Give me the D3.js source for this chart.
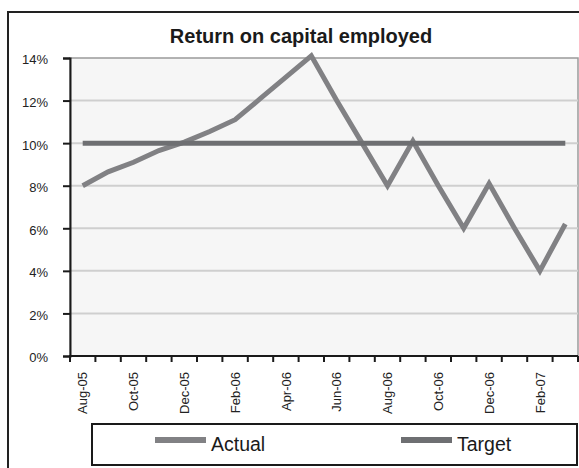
<!DOCTYPE html>
<html>
<head>
<meta charset="utf-8">
<script src="https://cdn.jsdelivr.net/npm/d3@7"></script>
<style>
  html, body { margin: 0; padding: 0; background: #ffffff; }
  svg { display: block; font-family: "Liberation Sans", Arial, sans-serif; }
</style>
</head>
<body>
<svg id="chart" width="579" height="468"></svg>
<script>
const months = ["Aug-05","Sep-05","Oct-05","Nov-05","Dec-05","Jan-06","Feb-06","Mar-06","Apr-06","May-06",
                "Jun-06","Jul-06","Aug-06","Sep-06","Oct-06","Nov-06","Dec-06","Jan-07","Feb-07","Mar-07"];
const actual = [0.080,0.0865,0.091,0.0965,0.1005,0.1055,0.111,0.121,0.131,0.141,
                0.120,0.100,0.080,0.101,0.080,0.060,0.081,0.060,0.040,0.062];
const target = [0.10,0.10,0.10,0.10,0.10,0.10,0.10,0.10,0.10,0.10,
                0.10,0.10,0.10,0.10,0.10,0.10,0.10,0.10,0.10,0.10];
const yTicks = [0,0.02,0.04,0.06,0.08,0.10,0.12,0.14];
const labelMonths = ["Aug-05","Oct-05","Dec-05","Feb-06","Apr-06","Jun-06","Aug-06","Oct-06","Dec-06","Feb-07"];
const seriesNames = ["Actual","Target"];
const seriesColors = ["#818184","#6e6f72"];

const svg = d3.select("#chart");
const pLeft = 70, pRight = 578, pTop = 58, pBottom = 356;

const x = d3.scaleBand().domain(months).range([pLeft, pRight]).padding(0);
const y = d3.scaleLinear().domain([0, 0.14]).range([pBottom, pTop]);
const cx = d => x(d) + x.bandwidth() / 2;

// outer frame
svg.append("rect").attr("x", 8).attr("y", 12).attr("width", 640).attr("height", 520)
  .attr("fill", "#fff").attr("stroke", "#222").attr("stroke-width", 2);

// title
svg.append("text").attr("x", 301).attr("y", 42.5).attr("text-anchor", "middle")
  .attr("font-size", 20).attr("font-weight", "bold").attr("fill", "#1a1a1a")
  .text("Return on capital employed");

// plot background
svg.append("rect").attr("x", pLeft).attr("y", pTop).attr("width", pRight - pLeft).attr("height", pBottom - pTop)
  .attr("fill", "#f6f6f6").attr("stroke", "#9a9a9a").attr("stroke-width", 1.5);

// gridlines
svg.append("g").selectAll("line").data(yTicks.filter(t => t > 0 && t < 0.14)).join("line")
  .attr("x1", pLeft).attr("x2", pRight).attr("y1", d => y(d)).attr("y2", d => y(d))
  .attr("stroke", "#cfcfcf").attr("stroke-width", 2);

// y axis
const yAxis = svg.append("g").attr("transform", `translate(${pLeft},0)`)
  .call(d3.axisLeft(y).tickValues(yTicks).tickFormat(d3.format(".0%")).tickSize(7).tickPadding(15));
yAxis.select(".domain").attr("stroke", "#1a1a1a").attr("stroke-width", 2);
yAxis.selectAll(".tick line").attr("stroke", "#1a1a1a").attr("stroke-width", 2);
yAxis.selectAll(".tick text").attr("font-size", 13).attr("fill", "#222")
  .attr("font-family", "'Liberation Sans', Arial, sans-serif").attr("dy", "0.45em");

// x axis line and ticks at band boundaries
const xg = svg.append("g");
xg.append("line").attr("x1", pLeft - 1).attr("x2", pRight).attr("y1", pBottom).attr("y2", pBottom)
  .attr("stroke", "#1a1a1a").attr("stroke-width", 2);
const boundaries = months.map(m => x(m)).concat([pRight]);
xg.selectAll("line.tk").data(boundaries).join("line").attr("class", "tk")
  .attr("x1", d => d).attr("x2", d => d).attr("y1", pBottom).attr("y2", pBottom + 6)
  .attr("stroke", "#1a1a1a").attr("stroke-width", 2);
xg.selectAll("text").data(labelMonths).join("text")
  .attr("transform", d => `translate(${cx(d)},372) rotate(-90)`)
  .attr("text-anchor", "end").attr("dy", "0.36em")
  .attr("font-size", 13).attr("fill", "#222").text(d => d);

// lines
const line = d3.line().x((d, i) => cx(months[i])).y(d => y(d));
svg.append("path").datum(actual).attr("d", line).attr("fill", "none")
  .attr("stroke", seriesColors[0]).attr("stroke-width", 5).attr("stroke-linejoin", "miter");
svg.append("path").datum(target).attr("d", line).attr("fill", "none")
  .attr("stroke", seriesColors[1]).attr("stroke-width", 5);

// legend
const lg = svg.append("g");
lg.append("rect").attr("x", 92).attr("y", 424).attr("width", 485).attr("height", 41)
  .attr("fill", "#fff").attr("stroke", "#1a1a1a").attr("stroke-width", 2);
const legendX = [155, 401];
seriesNames.forEach((name, i) => {
  lg.append("line").attr("x1", legendX[i]).attr("x2", legendX[i] + 51).attr("y1", 440).attr("y2", 440)
    .attr("stroke", seriesColors[i]).attr("stroke-width", 6);
  lg.append("text").attr("x", legendX[i] + 56).attr("y", 451).attr("font-size", 19.5)
    .attr("fill", "#1a1a1a").text(name);
});
</script>
</body>
</html>
